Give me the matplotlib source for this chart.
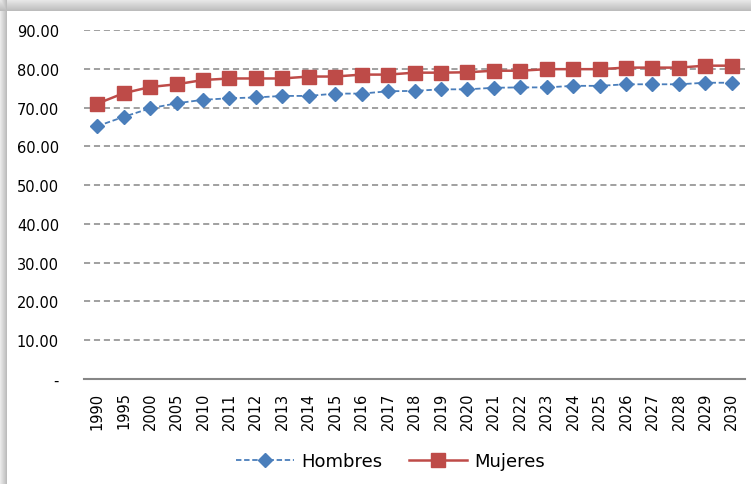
import numpy as np
import matplotlib
matplotlib.use("Agg")
import matplotlib.pyplot as plt
from matplotlib.ticker import FuncFormatter

# Esperanza de vida al nacer por sexo
years = ["1990", "1995", "2000", "2005", "2010", "2011", "2012", "2013", "2014",
         "2015", "2016", "2017", "2018", "2019", "2020", "2021", "2022", "2023",
         "2024", "2025", "2026", "2027", "2028", "2029", "2030"]
hombres = [65.2, 67.6, 69.8, 71.1, 72.0, 72.4, 72.6, 73.0, 73.0, 73.6, 73.6, 74.2, 74.3,
           74.7, 74.7, 75.1, 75.2, 75.2, 75.6, 75.6, 76.0, 76.0, 76.0, 76.4, 76.4]
mujeres = [71.0, 73.7, 75.3, 76.0, 77.1, 77.5, 77.5, 77.5, 78.0, 78.0, 78.5, 78.5, 79.0,
           79.0, 79.1, 79.5, 79.5, 79.9, 79.9, 79.9, 80.3, 80.3, 80.3, 80.8, 80.8]

W, H = 751, 485
fig = plt.figure(figsize=(W / 100, H / 100), dpi=100)

# marco con sombra gris arriba y a la izquierda
bg = np.ones((H, W))
top, left = 12, 7
for y in range(top):
    bg[y, :] = np.minimum(bg[y, :], 0.92 - 0.18 * y / (top - 1))
for x in range(left):
    bg[:, x] = np.minimum(bg[:, x], 0.92 - 0.18 * x / (left - 1))
bax = fig.add_axes([0, 0, 1, 1], zorder=-10)
bax.imshow(np.dstack([bg] * 3), aspect="auto", interpolation="bilinear")
bax.axis("off")

ax = fig.add_axes([84 / W, 1 - 380 / H, (745 - 84) / W, (380 - 31) / H])
x = np.arange(len(years))

ax.plot(x, hombres, color="#4a7ebb", linestyle=(0, (3, 1.5)), linewidth=1.3,
        marker="D", markersize=7, label="Hombres", zorder=3)
ax.plot(x, mujeres, color="#be4b48", linestyle="-", linewidth=1.8,
        marker="s", markersize=9.5, label="Mujeres", zorder=3)

ax.set_xlim(-0.5, len(years) - 0.5)
ax.set_ylim(0, 90)
ax.set_yticks(np.arange(0, 91, 10))
ax.yaxis.set_major_formatter(FuncFormatter(lambda v, p: "-" if v == 0 else f"{v:.2f}"))
ax.set_xticks(x)
ax.set_xticklabels(years, rotation=90, va="top")

ax.grid(axis="y", color="#868686", linestyle=(0, (4, 2.5)), linewidth=1.1)
ax.set_axisbelow(True)
for s in ["top", "right", "left"]:
    ax.spines[s].set_visible(False)
ax.spines["bottom"].set_color("#868686")
ax.spines["bottom"].set_linewidth(1.5)
ax.tick_params(axis="both", length=0, labelsize=10.5)
ax.tick_params(axis="y", pad=18)
ax.tick_params(axis="x", pad=9)

fig.legend(loc="center", bbox_to_anchor=(0.52, 0.047), ncol=2, frameon=False,
           fontsize=13, handlelength=3.2, columnspacing=1.5, handletextpad=0.4)

fig.savefig("out.png", dpi=100)
